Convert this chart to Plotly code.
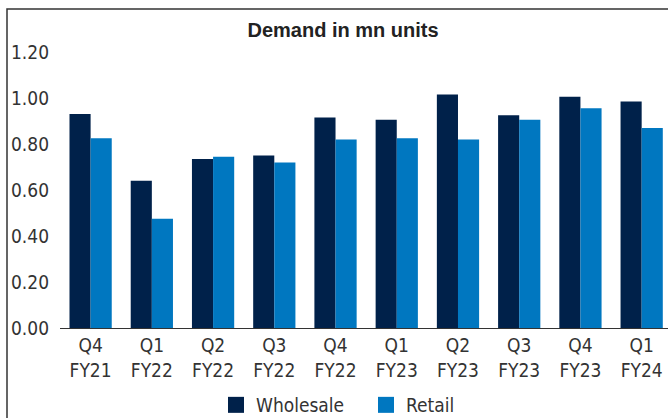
import plotly.graph_objects as go

categories = ["Q4<br>FY21", "Q1<br>FY22", "Q2<br>FY22", "Q3<br>FY22", "Q4<br>FY22",
              "Q1<br>FY23", "Q2<br>FY23", "Q3<br>FY23", "Q4<br>FY23", "Q1<br>FY24"]
wholesale = [0.93, 0.64, 0.735, 0.75, 0.915, 0.905, 1.015, 0.925, 1.005, 0.985]
retail = [0.825, 0.475, 0.745, 0.72, 0.82, 0.825, 0.82, 0.905, 0.955, 0.87]
y_ticks = [0, 0.2, 0.4, 0.6, 0.8, 1.0, 1.2]
y_tick_labels = ["0.00", "0.20", "0.40", "0.60", "0.80", "1.00", "1.20"]

C_W = "#00214A"
C_R = "#0077C0"
FONT = "DejaVu Sans Condensed, Liberation Sans Narrow, sans-serif"
FS = 19

fig = go.Figure()
fig.add_trace(go.Bar(x=categories, y=wholesale, name="Wholesale", marker_color=C_W,
                     marker_line_width=0, showlegend=False))
fig.add_trace(go.Bar(x=categories, y=retail, name="Retail", marker_color=C_R,
                     marker_line_width=0, showlegend=False))
# legend proxies
fig.add_trace(go.Scatter(x=[None], y=[None], mode="markers", name="Wholesale",
                         marker=dict(symbol="square", size=16, color=C_W)))
fig.add_trace(go.Scatter(x=[None], y=[None], mode="markers", name="Retail",
                         marker=dict(symbol="square", size=16, color=C_R)))

L, R, T, B = 60, 0, 52, 90
W, H = 668, 418
pw = W - L - R
ph = H - T - B

fig.update_layout(
    width=W, height=H,
    margin=dict(l=L, r=R, t=T, b=B, autoexpand=False),
    paper_bgcolor="white", plot_bgcolor="white",
    barmode="group", bargap=0.31, bargroupgap=0,
    font=dict(family=FONT, size=FS, color="#333333"),
    title=dict(text="<b>Demand in mn units</b>", x=343 / W, xanchor="center",
               y=1 - 30 / H, yanchor="middle",
               font=dict(family="Liberation Sans, Arial, sans-serif", size=20, color="#222222")),
    xaxis=dict(range=[-0.5, 9.43], showline=True, linecolor="#333333", linewidth=1,
               showgrid=False, ticks="", tickfont=dict(size=FS), fixedrange=True,
               automargin=False),
    yaxis=dict(range=[0, 1.2], tickvals=y_ticks, ticktext=y_tick_labels,
               showgrid=False, zeroline=False, showline=False, ticks="",
               ticklabelstandoff=10, tickfont=dict(size=FS), automargin=False),
    legend=dict(orientation="h", x=(216 - L) / pw, xanchor="left",
                y=(T + ph - 405) / ph, yanchor="middle",
                font=dict(size=FS, color="#333333"), itemwidth=30,
                entrywidth=105, entrywidthmode="pixels",
                traceorder="normal", tracegroupgap=0),
    shapes=[dict(type="path", xref="paper", yref="paper",
                 path=f"M {(7 - L) / pw} -2 L {(7 - L) / pw} {(T + ph - 9) / ph} L 1.2 {(T + ph - 9) / ph}",
                 line=dict(color="#333333", width=1.5), layer="above")],
)

fig.write_html("out.html", config={"displayModeBar": False},
               post_script="document.body.style.margin='0';document.body.style.overflow='hidden';")
